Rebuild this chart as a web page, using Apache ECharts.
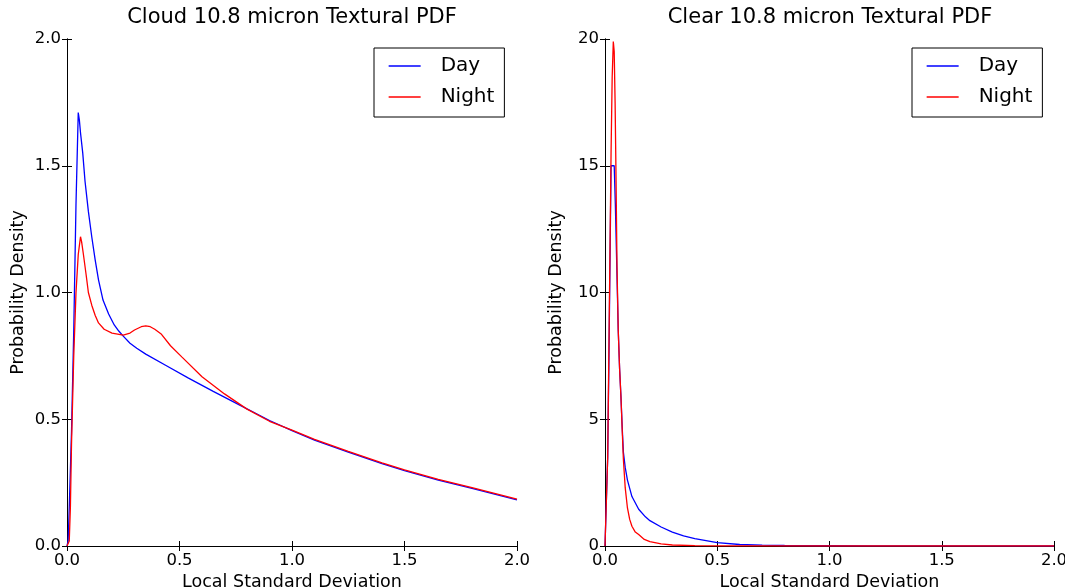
<!DOCTYPE html>
<html>
<head>
<meta charset="utf-8">
<script src="https://cdn.jsdelivr.net/npm/echarts@6/dist/echarts.min.js"></script>
<style>
  html, body { margin: 0; padding: 0; background: #fff; }
  #chart { width: 1065px; height: 588px; }
</style>
</head>
<body>
<div id="chart"></div>
<script>
// Cloud panel
const cloudDayX = [0, 0.005, 0.01, 0.02, 0.03, 0.04, 0.05, 0.055, 0.06, 0.065, 0.07, 0.08, 0.095, 0.11, 0.125, 0.14, 0.16, 0.185, 0.21, 0.23, 0.25, 0.28, 0.31, 0.35, 0.44, 0.54, 0.65, 0.77, 0.9, 1.0, 1.1, 1.25, 1.4, 1.5, 1.65, 1.8, 2.0];
const cloudDayY = [0, 0.02, 0.15, 0.45, 0.85, 1.35, 1.71, 1.68, 1.63, 1.63, 1.55, 1.44, 1.32, 1.22, 1.13, 1.05, 0.97, 0.915, 0.872, 0.848, 0.828, 0.80, 0.78, 0.757, 0.712, 0.662, 0.61, 0.555, 0.495, 0.455, 0.418, 0.37, 0.325, 0.297, 0.26, 0.227, 0.182];

const cloudNightX = [0, 0.01, 0.015, 0.02, 0.03, 0.04, 0.05, 0.06, 0.065, 0.073, 0.085, 0.095, 0.11, 0.125, 0.14, 0.165, 0.2, 0.25, 0.28, 0.3, 0.33, 0.35, 0.37, 0.39, 0.42, 0.46, 0.51, 0.6, 0.7, 0.8, 0.9, 1.0, 1.1, 1.25, 1.4, 1.5, 1.65, 1.8, 2.0];
const cloudNightY = [0, 0.02, 0.15, 0.4, 0.75, 1.0, 1.15, 1.22, 1.2, 1.15, 1.07, 1.0, 0.95, 0.91, 0.88, 0.855, 0.84, 0.832, 0.84, 0.852, 0.865, 0.868, 0.865, 0.855, 0.835, 0.79, 0.746, 0.668, 0.6, 0.54, 0.492, 0.457, 0.421, 0.373, 0.328, 0.3, 0.263, 0.23, 0.185];

// Clear panel
const clearDayX = [0, 0.007, 0.012, 0.017, 0.022, 0.027, 0.034, 0.041, 0.046, 0.052, 0.059, 0.065, 0.071, 0.077, 0.082, 0.09, 0.1, 0.12, 0.15, 0.18, 0.2, 0.25, 0.3, 0.35, 0.4, 0.5, 0.6, 0.7, 0.8, 1.0, 1.2, 1.5, 2.0];
const clearDayY = [0, 0, 3.5, 7, 11, 15, 15.05, 15, 13.5, 11.2, 8.5, 7, 5.9, 4.6, 3.7, 3.1, 2.6, 1.95, 1.45, 1.15, 1.0, 0.75, 0.55, 0.4, 0.29, 0.13, 0.06, 0.035, 0.02, 0.01, 0.005, 0.002, 0];

const clearNightX = [0, 0.007, 0.012, 0.017, 0.022, 0.027, 0.032, 0.037, 0.041, 0.045, 0.0485, 0.0535, 0.059, 0.065, 0.071, 0.077, 0.082, 0.09, 0.1, 0.11, 0.12, 0.135, 0.15, 0.175, 0.2, 0.25, 0.3, 0.4, 0.5, 1.0, 2.0];
const clearNightY = [0, 0, 3.5, 7.5, 11.5, 15.5, 18.5, 19.9, 19.5, 17.5, 15, 11, 8.5, 7, 5.9, 4.5, 3.4, 2.3, 1.5, 1.05, 0.78, 0.55, 0.45, 0.26, 0.17, 0.08, 0.04, 0.015, 0.005, 0, 0];

const xTicks = ['0.0', '0.5', '1.0', '1.5', '2.0'];

const pairs = (xs, ys) => xs.map((x, i) => [x, ys[i]]);

const font = 'DejaVu Sans';
const black = '#000';

function bottomX(gridIndex) {
  return {
    type: 'value', gridIndex, min: 0, max: 2, interval: 0.5,
    axisLine: { show: true, lineStyle: { color: black, width: 1 } },
    axisTick: { show: true, inside: true, length: 5, lineStyle: { color: black } },
    axisLabel: { color: black, fontFamily: font, fontSize: 16.5, margin: 6, showMinLabel: true, showMaxLabel: true,
      formatter: v => xTicks[Math.round(v / 0.5)] },
    splitLine: { show: false },
    name: 'Local Standard Deviation', nameLocation: 'middle', nameGap: 24,
    nameTextStyle: { color: black, fontFamily: font, fontSize: 17.5 }
  };
}
function topX(gridIndex) {
  return {
    type: 'value', gridIndex, position: 'top', min: 0, max: 2, interval: 0.5,
    axisLine: { show: true, lineStyle: { color: black, width: 1 } },
    axisTick: { show: true, inside: true, length: 5, lineStyle: { color: black } },
    axisLabel: { show: false }, splitLine: { show: false }
  };
}
function leftY(gridIndex, max, interval, fmt) {
  return {
    type: 'value', gridIndex, min: 0, max, interval,
    axisLine: { show: true, lineStyle: { color: black, width: 1 } },
    axisTick: { show: true, inside: true, length: 5, lineStyle: { color: black } },
    axisLabel: { color: black, fontFamily: font, fontSize: 16.5, margin: 6, showMinLabel: true, showMaxLabel: true, formatter: fmt },
    splitLine: { show: false },
    name: 'Probability Density', nameLocation: 'middle', nameGap: 40,
    nameTextStyle: { color: black, fontFamily: font, fontSize: 17.5 }
  };
}
function rightY(gridIndex, max, interval) {
  return {
    type: 'value', gridIndex, position: 'right', min: 0, max, interval,
    axisLine: { show: true, lineStyle: { color: black, width: 1 } },
    axisTick: { show: true, inside: true, length: 5, lineStyle: { color: black } },
    axisLabel: { show: false }, splitLine: { show: false }
  };
}
function line(name, color, data, axis) {
  return {
    name, type: 'line', data, xAxisIndex: axis, yAxisIndex: axis,
    symbol: 'none', smooth: false,
    lineStyle: { color, width: 1.3 }, itemStyle: { color }
  };
}
function legendAt(left) {
  return {
    orient: 'vertical', left, top: 48,
    data: ['Day', 'Night'],
    itemWidth: 32, itemHeight: 20, itemGap: 11,
    padding: [8, 10, 10, 14],
    borderColor: black, borderWidth: 1, borderRadius: 0,
    itemStyle: { opacity: 0 },
    lineStyle: { width: 1.3 },
    textStyle: { color: black, fontFamily: font, fontSize: 20, padding: [0, 0, 0, 15] }
  };
}

const chart = echarts.init(document.getElementById('chart'));
chart.setOption({
  animation: false,
  backgroundColor: '#fff',
  title: [
    { text: 'Cloud 10.8 micron Textural PDF', left: 292, top: 7, textAlign: 'center', padding: 0,
      textStyle: { color: black, fontFamily: font, fontSize: 21, fontWeight: 'normal' } },
    { text: 'Clear 10.8 micron Textural PDF', left: 830, top: 7, textAlign: 'center', padding: 0,
      textStyle: { color: black, fontFamily: font, fontSize: 21, fontWeight: 'normal' } }
  ],
  legend: [legendAt(374), legendAt(912)],
  grid: [
    { left: 67, top: 39, width: 450, height: 507, outerBoundsMode: 'none', containLabel: false },
    { left: 605, top: 39, width: 449, height: 507, outerBoundsMode: 'none', containLabel: false }
  ],
  xAxis: [bottomX(0), topX(0), bottomX(1), topX(1)],
  yAxis: [
    leftY(0, 2, 0.5, v => v.toFixed(1)), rightY(0, 2, 0.5),
    leftY(1, 20, 5, v => String(v)), rightY(1, 20, 5)
  ],
  series: [
    line('Day', '#0000ff', pairs(cloudDayX, cloudDayY), 0),
    line('Night', '#ff0000', pairs(cloudNightX, cloudNightY), 0),
    line('Day', '#0000ff', pairs(clearDayX, clearDayY), 2),
    line('Night', '#ff0000', pairs(clearNightX, clearNightY), 2)
  ]
});
window.addEventListener('resize', () => chart.resize());
</script>
</body>
</html>
